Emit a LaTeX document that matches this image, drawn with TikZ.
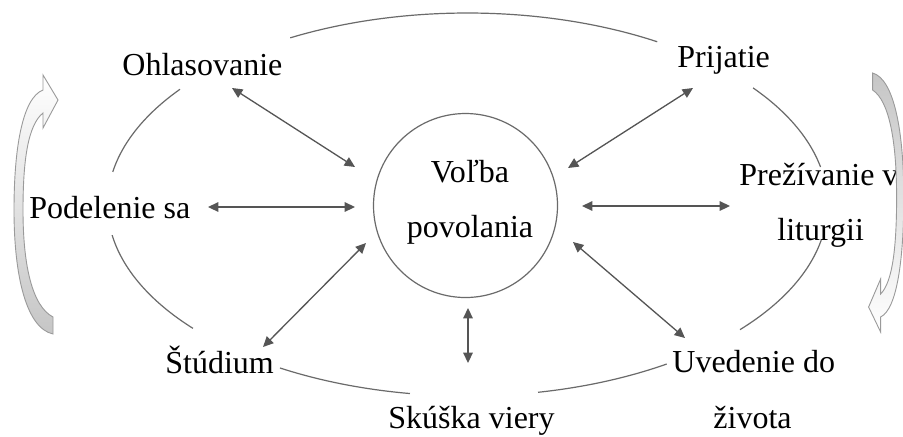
\documentclass[tikz,border=0pt]{standalone}
\usepackage{fontspec}
\setmainfont{Liberation Serif}
\usetikzlibrary{arrows.meta}
\definecolor{arr}{HTML}{555555}
\definecolor{ln}{HTML}{6A6A6A}
\definecolor{blk}{HTML}{9A9A9A}
\begin{document}
\begin{tikzpicture}[x=0.5pt,y=-0.5pt,
  lbl/.style={inner sep=0pt, anchor=base west, font=\fontsize{16}{19}\selectfont},
  dbl/.style={{Triangle[length=5.2pt,width=4.8pt]}-{Triangle[length=5.2pt,width=4.8pt]}, draw=arr, line width=0.65pt},
  ring/.style={draw=ln, line width=0.6pt},
  blockarrow/.style={draw=blk, line width=0.45pt}]
\useasboundingbox (0,0) rectangle (903,436);
\fill[white] (0,0) rectangle (903,436);

% labels
\node[lbl] (ohl) at (122,75) {Ohlasovanie};
\node[lbl] (pri) at (677,67) {Prijatie};
\node[lbl] (pod) at (29,218) {Podelenie sa};
\node[lbl] (pre) at (739,185) {Prežívanie v};
\node[lbl] (lit) at (777,240) {liturgii};
\node[lbl] (stu) at (165,373) {Štúdium};
\node[lbl] (uve) at (672,372) {Uvedenie do};
\node[lbl] (ziv) at (713,428) {života};
\node[lbl] (sku) at (388,428) {Skúška viery};

% centre
\node[ring, circle, minimum size=92pt, inner sep=0pt] (vc) at (465.5,205.5) {};
\node[lbl, anchor=base] (v1) at (470,182) {Voľba};
\node[lbl, anchor=base] (v2) at (470,237) {povolania};

% big ellipse segments
\foreach \a/\b in {58.2/119.5, 143/170.2, 189.2/220.3, 238.6/260.8, 281.3/303.6, 319.2/349.3, 11.3/37.5}
  \draw[ring] plot[domain=\a:\b, samples=40, smooth] ({467.5+360*cos(\x)},{204.5-191.5*sin(\x)});

% arrow end points
\coordinate (a1s) at (232,88);  \coordinate (a1e) at (355,167);
\coordinate (a2s) at (208,207); \coordinate (a2e) at (355,207);
\coordinate (a3s) at (263,347); \coordinate (a3e) at (366,243);
\coordinate (a4s) at (693,88);  \coordinate (a4e) at (568,168);
\coordinate (a5s) at (582,206); \coordinate (a5e) at (730,206);
\coordinate (a6s) at (573,242); \coordinate (a6e) at (685,338);
\coordinate (a7s) at (468,308); \coordinate (a7e) at (468,363);
\foreach \i in {1,...,7}
  \draw[dbl] (a\i s) -- (a\i e);

% left curved block arrow
\path[blockarrow, top color=white, bottom color=gray!45]
  (53,317) .. controls (32,306) and (23,265) .. (23,210)
  .. controls (23,160) and (28,125) .. (43,113)
  -- (43,128) -- (58,100) -- (43,75) -- (43,90)
  .. controls (22,98) and (14,150) .. (14,210)
  .. controls (14,275) and (26,328) .. (53,334) -- cycle;

% right curved block arrow
\path[blockarrow, top color=gray!45, bottom color=white]
  (872.6,90) .. controls (889.4,101) and (896.6,142) .. (896.6,197)
  .. controls (896.6,247) and (892.6,282) .. (880.6,294)
  -- (880.6,279) -- (868.6,307) -- (880.6,332) -- (880.6,317)
  .. controls (897.4,309) and (903.8,257) .. (903.8,197)
  .. controls (903.8,132) and (894.2,79) .. (872.6,73) -- cycle;
\end{tikzpicture}
\end{document}
